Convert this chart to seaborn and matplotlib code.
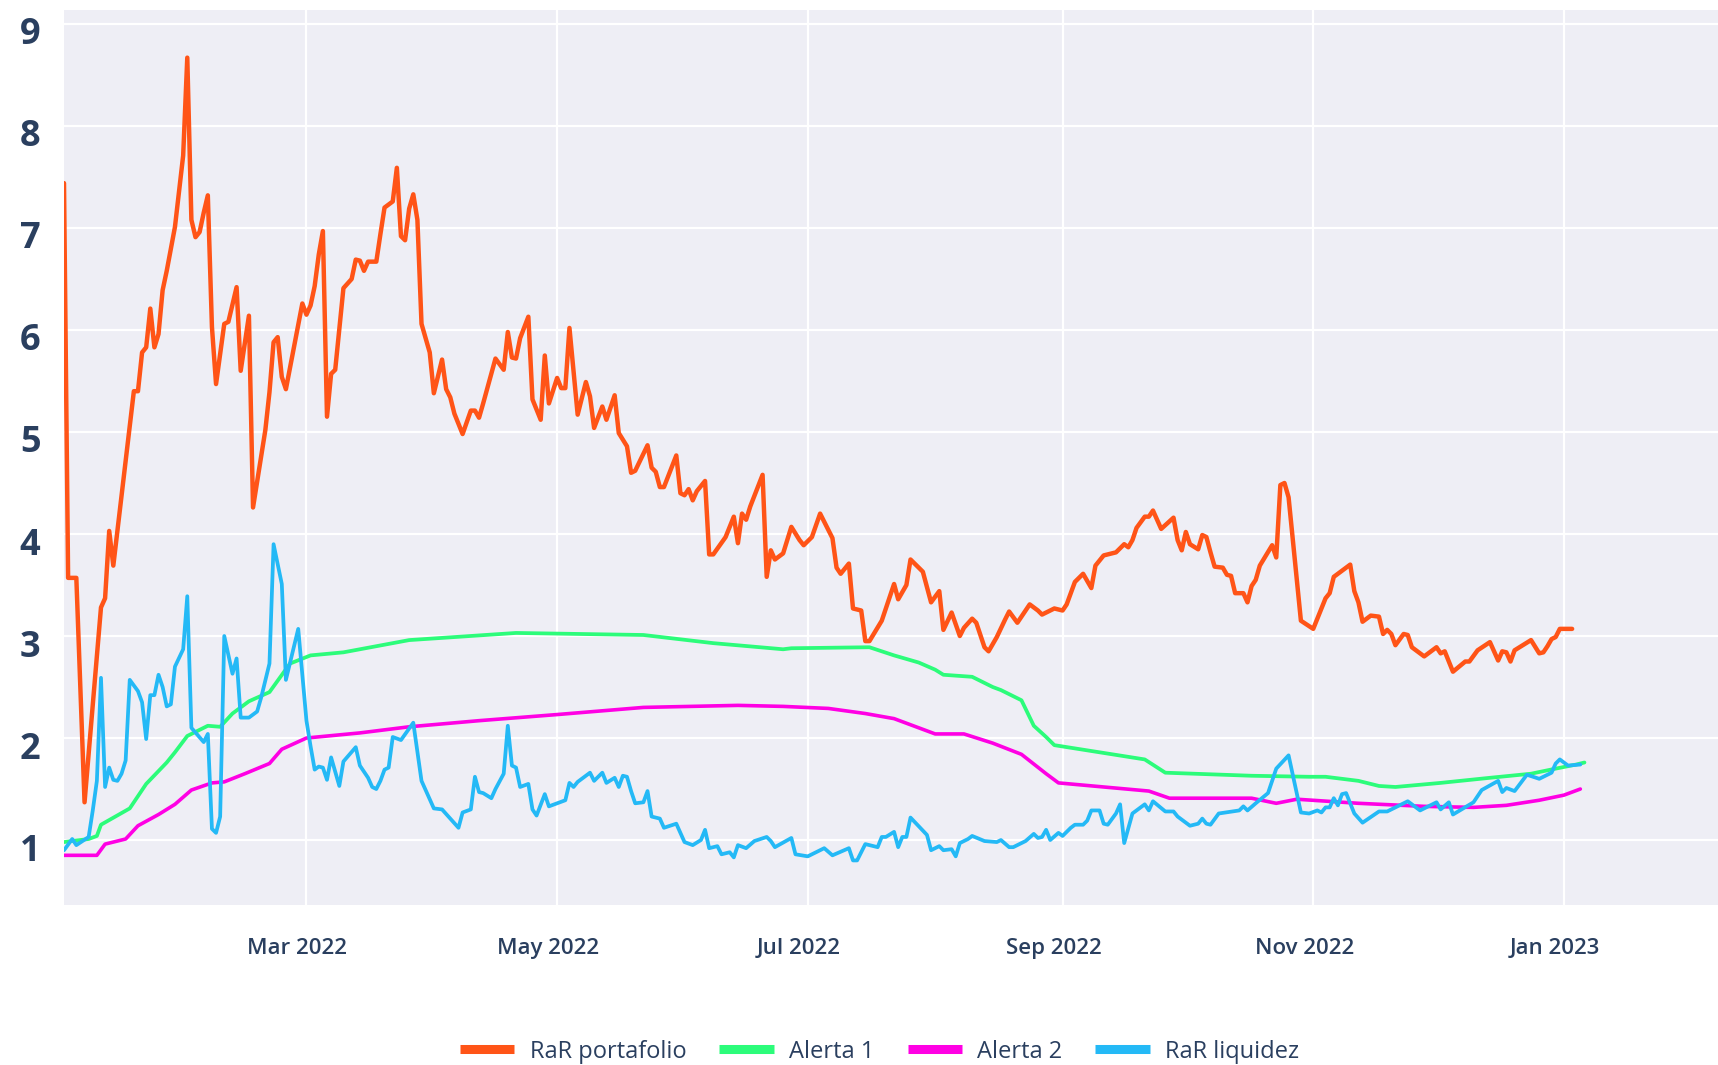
#!/usr/bin/env python3
"""
RaR portafolio vs RaR liquidez, with the two alert thresholds.
Requires pandas, seaborn, matplotlib.
"""
import pandas as pd
import seaborn as sns
import matplotlib.pyplot as plt
from matplotlib.lines import Line2D
from matplotlib.transforms import ScaledTranslation

# ---- data ----
fechas_portafolio = [
    "2022-01-01", "2022-01-02", "2022-01-04", "2022-01-06", "2022-01-10", "2022-01-11",
    "2022-01-12", "2022-01-13", "2022-01-18", "2022-01-19", "2022-01-20", "2022-01-21",
    "2022-01-22", "2022-01-23", "2022-01-24", "2022-01-25", "2022-01-26", "2022-01-28",
    "2022-01-30", "2022-01-31", "2022-02-01", "2022-02-02", "2022-02-03", "2022-02-04",
    "2022-02-05", "2022-02-06", "2022-02-07", "2022-02-09", "2022-02-10", "2022-02-12",
    "2022-02-13", "2022-02-15", "2022-02-16", "2022-02-19", "2022-02-20", "2022-02-21",
    "2022-02-22", "2022-02-23", "2022-02-24", "2022-02-28", "2022-03-01", "2022-03-02",
    "2022-03-03", "2022-03-04", "2022-03-05", "2022-03-06", "2022-03-07", "2022-03-08",
    "2022-03-10", "2022-03-12", "2022-03-13", "2022-03-14", "2022-03-15", "2022-03-16",
    "2022-03-18", "2022-03-19", "2022-03-20", "2022-03-22", "2022-03-23", "2022-03-24",
    "2022-03-25", "2022-03-26", "2022-03-27", "2022-03-28", "2022-03-29", "2022-03-31",
    "2022-04-01", "2022-04-03", "2022-04-04", "2022-04-05", "2022-04-06", "2022-04-08",
    "2022-04-10", "2022-04-11", "2022-04-12", "2022-04-13", "2022-04-16", "2022-04-18",
    "2022-04-19", "2022-04-20", "2022-04-21", "2022-04-22", "2022-04-24", "2022-04-25",
    "2022-04-27", "2022-04-28", "2022-04-29", "2022-05-01", "2022-05-02", "2022-05-03",
    "2022-05-04", "2022-05-06", "2022-05-08", "2022-05-09", "2022-05-10", "2022-05-12",
    "2022-05-13", "2022-05-15", "2022-05-16", "2022-05-18", "2022-05-19", "2022-05-20",
    "2022-05-23", "2022-05-24", "2022-05-25", "2022-05-26", "2022-05-27", "2022-05-30",
    "2022-05-31", "2022-06-01", "2022-06-02", "2022-06-03", "2022-06-04", "2022-06-06",
    "2022-06-07", "2022-06-08", "2022-06-11", "2022-06-13", "2022-06-14", "2022-06-15",
    "2022-06-16", "2022-06-17", "2022-06-20", "2022-06-21", "2022-06-22", "2022-06-23",
    "2022-06-25", "2022-06-27", "2022-06-29", "2022-06-30", "2022-07-02", "2022-07-04",
    "2022-07-07", "2022-07-08", "2022-07-09", "2022-07-11", "2022-07-12", "2022-07-14",
    "2022-07-15", "2022-07-16", "2022-07-19", "2022-07-22", "2022-07-23", "2022-07-25",
    "2022-07-26", "2022-07-29", "2022-07-31", "2022-08-02", "2022-08-03", "2022-08-05",
    "2022-08-07", "2022-08-08", "2022-08-10", "2022-08-11", "2022-08-13", "2022-08-14",
    "2022-08-16", "2022-08-18", "2022-08-19", "2022-08-21", "2022-08-24", "2022-08-26",
    "2022-08-27", "2022-08-30", "2022-08-31", "2022-09-01", "2022-09-02", "2022-09-04",
    "2022-09-06", "2022-09-08", "2022-09-09", "2022-09-11", "2022-09-14", "2022-09-16",
    "2022-09-17", "2022-09-18", "2022-09-19", "2022-09-21", "2022-09-22", "2022-09-23",
    "2022-09-25", "2022-09-28", "2022-09-29", "2022-09-30", "2022-10-01", "2022-10-02",
    "2022-10-04", "2022-10-05", "2022-10-06", "2022-10-07", "2022-10-08", "2022-10-10",
    "2022-10-11", "2022-10-12", "2022-10-13", "2022-10-15", "2022-10-16", "2022-10-17",
    "2022-10-18", "2022-10-19", "2022-10-22", "2022-10-23", "2022-10-24", "2022-10-25",
    "2022-10-26", "2022-10-29", "2022-11-01", "2022-11-04", "2022-11-05", "2022-11-06",
    "2022-11-10", "2022-11-11", "2022-11-12", "2022-11-13", "2022-11-15", "2022-11-17",
    "2022-11-18", "2022-11-19", "2022-11-20", "2022-11-21", "2022-11-23", "2022-11-24",
    "2022-11-25", "2022-11-28", "2022-12-01", "2022-12-02", "2022-12-03", "2022-12-05",
    "2022-12-08", "2022-12-09", "2022-12-11", "2022-12-14", "2022-12-16", "2022-12-17",
    "2022-12-18", "2022-12-19", "2022-12-20", "2022-12-24", "2022-12-26", "2022-12-27",
    "2022-12-28", "2022-12-29", "2022-12-30", "2022-12-31", "2023-01-03",
]
rar_portafolio = [
    7.44, 3.57, 3.57, 1.37, 3.28, 3.37,
    4.03, 3.69, 5.40, 5.40, 5.78, 5.83,
    6.21, 5.83, 5.96, 6.39, 6.58, 7.01,
    7.71, 8.67, 7.08, 6.91, 6.96, 7.15,
    7.32, 6.03, 5.47, 6.06, 6.08, 6.42,
    5.60, 6.14, 4.26, 5.02, 5.39, 5.88,
    5.93, 5.54, 5.42, 6.26, 6.15, 6.24,
    6.43, 6.74, 6.97, 5.15, 5.57, 5.61,
    6.41, 6.50, 6.69, 6.68, 6.58, 6.67,
    6.67, 6.94, 7.20, 7.26, 7.59, 6.92,
    6.88, 7.19, 7.33, 7.08, 6.06, 5.78,
    5.38, 5.71, 5.42, 5.34, 5.18, 4.98,
    5.21, 5.21, 5.14, 5.28, 5.72, 5.61,
    5.98, 5.73, 5.72, 5.92, 6.13, 5.32,
    5.12, 5.75, 5.28, 5.53, 5.43, 5.43,
    6.02, 5.17, 5.49, 5.35, 5.04, 5.25,
    5.12, 5.36, 4.99, 4.86, 4.60, 4.62,
    4.87, 4.65, 4.61, 4.46, 4.46, 4.77,
    4.40, 4.38, 4.44, 4.33, 4.42, 4.52,
    3.80, 3.80, 3.97, 4.17, 3.91, 4.20,
    4.14, 4.27, 4.58, 3.58, 3.84, 3.75,
    3.81, 4.07, 3.94, 3.89, 3.97, 4.20,
    3.96, 3.67, 3.61, 3.71, 3.27, 3.25,
    2.95, 2.95, 3.15, 3.51, 3.36, 3.50,
    3.75, 3.63, 3.33, 3.44, 3.06, 3.23,
    3.00, 3.08, 3.17, 3.13, 2.89, 2.85,
    2.99, 3.16, 3.24, 3.13, 3.31, 3.25,
    3.21, 3.27, 3.26, 3.25, 3.31, 3.53,
    3.61, 3.47, 3.69, 3.79, 3.82, 3.90,
    3.87, 3.94, 4.06, 4.17, 4.17, 4.23,
    4.05, 4.16, 3.94, 3.84, 4.02, 3.90,
    3.85, 3.99, 3.97, 3.82, 3.68, 3.67,
    3.60, 3.59, 3.42, 3.42, 3.33, 3.49,
    3.55, 3.69, 3.89, 3.77, 4.48, 4.50,
    4.36, 3.15, 3.07, 3.37, 3.42, 3.58,
    3.70, 3.44, 3.33, 3.14, 3.20, 3.19,
    3.02, 3.06, 3.02, 2.91, 3.02, 3.01,
    2.89, 2.80, 2.89, 2.83, 2.85, 2.65,
    2.75, 2.75, 2.86, 2.94, 2.76, 2.85,
    2.84, 2.75, 2.86, 2.96, 2.83, 2.84,
    2.90, 2.97, 2.99, 3.07, 3.07,
]

fechas_alerta1 = [
    "2022-01-01", "2022-01-07", "2022-01-09", "2022-01-10", "2022-01-17", "2022-01-21",
    "2022-01-26", "2022-01-28", "2022-01-31", "2022-02-05", "2022-02-08", "2022-02-11",
    "2022-02-15", "2022-02-20", "2022-02-25", "2022-03-02", "2022-03-10", "2022-03-26",
    "2022-04-21", "2022-05-22", "2022-06-08", "2022-06-25", "2022-06-27", "2022-07-16",
    "2022-07-22", "2022-07-28", "2022-08-01", "2022-08-03", "2022-08-10", "2022-08-15",
    "2022-08-17", "2022-08-22", "2022-08-25", "2022-08-28", "2022-08-30", "2022-09-21",
    "2022-09-26", "2022-10-17", "2022-10-31", "2022-11-04", "2022-11-12", "2022-11-17",
    "2022-11-21", "2022-12-02", "2022-12-14", "2022-12-24", "2022-12-30", "2023-01-04",
    "2023-01-06",
]
alerta1 = [
    0.98, 1.01, 1.04, 1.15, 1.31, 1.55,
    1.76, 1.86, 2.02, 2.12, 2.11, 2.24,
    2.36, 2.45, 2.73, 2.81, 2.84, 2.96,
    3.03, 3.01, 2.93, 2.87, 2.88, 2.89,
    2.81, 2.74, 2.67, 2.62, 2.60, 2.50,
    2.47, 2.37, 2.12, 2.01, 1.93, 1.79,
    1.66, 1.63, 1.62, 1.62, 1.58, 1.53,
    1.52, 1.56, 1.61, 1.65, 1.70, 1.74,
    1.76,
]

fechas_alerta2 = [
    "2022-01-01", "2022-01-09", "2022-01-11", "2022-01-16", "2022-01-19", "2022-01-24",
    "2022-01-28", "2022-02-01", "2022-02-06", "2022-02-09", "2022-02-14", "2022-02-20",
    "2022-02-23", "2022-03-01", "2022-03-14", "2022-03-26", "2022-04-12", "2022-05-01",
    "2022-05-22", "2022-06-14", "2022-06-25", "2022-07-06", "2022-07-15", "2022-07-22",
    "2022-08-01", "2022-08-08", "2022-08-15", "2022-08-22", "2022-08-28", "2022-08-31",
    "2022-09-22", "2022-09-27", "2022-10-17", "2022-10-23", "2022-10-28", "2022-11-12",
    "2022-11-28", "2022-12-10", "2022-12-18", "2022-12-26", "2023-01-01", "2023-01-05",
]
alerta2 = [
    0.85, 0.85, 0.96, 1.01, 1.14, 1.25,
    1.35, 1.49, 1.56, 1.57, 1.65, 1.75,
    1.89, 2.00, 2.05, 2.11, 2.17, 2.23,
    2.30, 2.32, 2.31, 2.29, 2.24, 2.19,
    2.04, 2.04, 1.95, 1.84, 1.65, 1.56,
    1.48, 1.41, 1.41, 1.36, 1.40, 1.36,
    1.33, 1.32, 1.34, 1.39, 1.44, 1.50,
]

fechas_liquidez = [
    "2022-01-01", "2022-01-03", "2022-01-04", "2022-01-07", "2022-01-08", "2022-01-09",
    "2022-01-10", "2022-01-11", "2022-01-12", "2022-01-13", "2022-01-14", "2022-01-15",
    "2022-01-16", "2022-01-17", "2022-01-19", "2022-01-20", "2022-01-21", "2022-01-22",
    "2022-01-23", "2022-01-24", "2022-01-25", "2022-01-26", "2022-01-27", "2022-01-28",
    "2022-01-30", "2022-01-31", "2022-02-01", "2022-02-04", "2022-02-05", "2022-02-06",
    "2022-02-07", "2022-02-08", "2022-02-09", "2022-02-11", "2022-02-12", "2022-02-13",
    "2022-02-15", "2022-02-17", "2022-02-18", "2022-02-20", "2022-02-21", "2022-02-23",
    "2022-02-24", "2022-02-27", "2022-03-01", "2022-03-02", "2022-03-03", "2022-03-04",
    "2022-03-05", "2022-03-06", "2022-03-07", "2022-03-09", "2022-03-10", "2022-03-13",
    "2022-03-14", "2022-03-16", "2022-03-17", "2022-03-18", "2022-03-19", "2022-03-20",
    "2022-03-21", "2022-03-22", "2022-03-24", "2022-03-27", "2022-03-29", "2022-04-01",
    "2022-04-03", "2022-04-07", "2022-04-08", "2022-04-10", "2022-04-11", "2022-04-12",
    "2022-04-13", "2022-04-15", "2022-04-16", "2022-04-18", "2022-04-19", "2022-04-20",
    "2022-04-21", "2022-04-22", "2022-04-24", "2022-04-25", "2022-04-26", "2022-04-28",
    "2022-04-29", "2022-05-03", "2022-05-04", "2022-05-05", "2022-05-06", "2022-05-09",
    "2022-05-10", "2022-05-12", "2022-05-13", "2022-05-15", "2022-05-16", "2022-05-17",
    "2022-05-18", "2022-05-19", "2022-05-20", "2022-05-22", "2022-05-23", "2022-05-24",
    "2022-05-26", "2022-05-27", "2022-05-30", "2022-06-01", "2022-06-03", "2022-06-05",
    "2022-06-06", "2022-06-07", "2022-06-09", "2022-06-10", "2022-06-12", "2022-06-13",
    "2022-06-14", "2022-06-16", "2022-06-18", "2022-06-21", "2022-06-22", "2022-06-23",
    "2022-06-27", "2022-06-28", "2022-07-01", "2022-07-05", "2022-07-07", "2022-07-11",
    "2022-07-12", "2022-07-13", "2022-07-15", "2022-07-18", "2022-07-19", "2022-07-20",
    "2022-07-22", "2022-07-23", "2022-07-24", "2022-07-25", "2022-07-26", "2022-07-30",
    "2022-07-31", "2022-08-02", "2022-08-03", "2022-08-05", "2022-08-06", "2022-08-07",
    "2022-08-09", "2022-08-10", "2022-08-13", "2022-08-16", "2022-08-17", "2022-08-19",
    "2022-08-20", "2022-08-23", "2022-08-25", "2022-08-26", "2022-08-27", "2022-08-28",
    "2022-08-29", "2022-08-31", "2022-09-01", "2022-09-03", "2022-09-04", "2022-09-06",
    "2022-09-07", "2022-09-08", "2022-09-10", "2022-09-11", "2022-09-12", "2022-09-14",
    "2022-09-15", "2022-09-16", "2022-09-18", "2022-09-21", "2022-09-22", "2022-09-23",
    "2022-09-26", "2022-09-28", "2022-09-29", "2022-10-02", "2022-10-04", "2022-10-05",
    "2022-10-06", "2022-10-07", "2022-10-09", "2022-10-14", "2022-10-15", "2022-10-16",
    "2022-10-18", "2022-10-21", "2022-10-22", "2022-10-23", "2022-10-26", "2022-10-29",
    "2022-10-31", "2022-11-02", "2022-11-03", "2022-11-04", "2022-11-05", "2022-11-06",
    "2022-11-07", "2022-11-08", "2022-11-09", "2022-11-11", "2022-11-13", "2022-11-17",
    "2022-11-19", "2022-11-24", "2022-11-27", "2022-12-01", "2022-12-02", "2022-12-04",
    "2022-12-05", "2022-12-10", "2022-12-12", "2022-12-16", "2022-12-17", "2022-12-18",
    "2022-12-20", "2022-12-23", "2022-12-26", "2022-12-29", "2022-12-30", "2022-12-31",
    "2023-01-02", "2023-01-05",
]
rar_liquidez = [
    0.90, 1.01, 0.95, 1.03, 1.29, 1.58,
    2.59, 1.52, 1.71, 1.59, 1.58, 1.65,
    1.78, 2.57, 2.46, 2.35, 1.99, 2.42,
    2.42, 2.62, 2.50, 2.31, 2.33, 2.70,
    2.87, 3.39, 2.10, 1.96, 2.04, 1.11,
    1.07, 1.23, 3.00, 2.63, 2.78, 2.20,
    2.20, 2.26, 2.40, 2.73, 3.90, 3.51,
    2.57, 3.07, 2.17, 1.92, 1.69, 1.72,
    1.71, 1.59, 1.81, 1.53, 1.77, 1.91,
    1.73, 1.61, 1.52, 1.50, 1.58, 1.69,
    1.71, 2.01, 1.98, 2.15, 1.58, 1.31,
    1.30, 1.12, 1.27, 1.30, 1.62, 1.47,
    1.46, 1.41, 1.50, 1.65, 2.12, 1.73,
    1.71, 1.52, 1.55, 1.30, 1.24, 1.45,
    1.33, 1.39, 1.56, 1.52, 1.57, 1.66,
    1.58, 1.66, 1.56, 1.61, 1.52, 1.63,
    1.62, 1.48, 1.36, 1.37, 1.48, 1.23,
    1.21, 1.12, 1.16, 0.98, 0.95, 1.00,
    1.10, 0.92, 0.94, 0.86, 0.88, 0.83,
    0.95, 0.92, 0.99, 1.03, 0.99, 0.93,
    1.02, 0.86, 0.84, 0.92, 0.85, 0.92,
    0.80, 0.80, 0.96, 0.93, 1.03, 1.03,
    1.08, 0.93, 1.03, 1.03, 1.22, 1.05,
    0.90, 0.94, 0.90, 0.91, 0.84, 0.97,
    1.01, 1.04, 0.99, 0.98, 1.00, 0.93,
    0.93, 0.99, 1.06, 1.02, 1.03, 1.10,
    1.00, 1.07, 1.04, 1.12, 1.15, 1.15,
    1.19, 1.29, 1.29, 1.16, 1.15, 1.26,
    1.35, 0.97, 1.26, 1.35, 1.29, 1.38,
    1.28, 1.28, 1.23, 1.14, 1.16, 1.21,
    1.16, 1.15, 1.26, 1.29, 1.33, 1.29,
    1.36, 1.46, 1.58, 1.70, 1.83, 1.27,
    1.26, 1.29, 1.27, 1.32, 1.32, 1.41,
    1.34, 1.45, 1.46, 1.26, 1.17, 1.28,
    1.28, 1.38, 1.29, 1.37, 1.30, 1.37,
    1.25, 1.37, 1.49, 1.58, 1.47, 1.51,
    1.48, 1.64, 1.60, 1.66, 1.75, 1.79,
    1.73, 1.74,
]

series_nombres = ["RaR portafolio", "Alerta 1", "Alerta 2", "RaR liquidez"]
series_colores = ["#FF5417", "#2CFC7A", "#FF00E4", "#24B9F6"]

ticks_x = ["2022-03-01", "2022-05-01", "2022-07-01", "2022-09-01", "2022-11-01", "2023-01-01"]
etiquetas_x = ["Mar 2022", "May 2022", "Jul 2022", "Sep 2022", "Nov 2022", "Jan 2023"]
ticks_y = [1, 2, 3, 4, 5, 6, 7, 8, 9]

TEXTO = "#2a3f5f"


def main():
    # 1) Theme: seaborn darkgrid look (grey panel, white grid)
    sns.set_theme(style="darkgrid", rc={
        "axes.facecolor": "#EEEEF5",
        "grid.color": "white",
        "grid.linewidth": 1.6,
    })
    plt.rcParams["font.family"] = ["Open Sans", "DejaVu Sans"]

    fig = plt.figure(figsize=(17.18, 10.65), dpi=100)
    ax = fig.add_axes([64 / 1718, 160 / 1065, 1654 / 1718, 895 / 1065])

    # 2) Lines, in legend order (later ones on top)
    series = [
        (fechas_portafolio, rar_portafolio, 3.2),
        (fechas_alerta1, alerta1, 2.7),
        (fechas_alerta2, alerta2, 2.6),
        (fechas_liquidez, rar_liquidez, 2.7),
    ]
    for (fechas, valores, lw), nombre, color in zip(series, series_nombres, series_colores):
        df = pd.DataFrame({"fecha": pd.to_datetime(fechas), "valor": valores})
        sns.lineplot(data=df, x="fecha", y="valor", color=color, linewidth=lw,
                     estimator=None, legend=False, ax=ax)

    # 3) Axes limits, ticks, labels
    ax.set_xlim(pd.Timestamp("2022-01-01"), pd.Timestamp("2023-02-07 12:00"))
    ax.set_ylim(0.363, 9.137)
    ax.set_xticks(pd.to_datetime(ticks_x))
    ax.set_xticklabels(etiquetas_x, fontsize=16, fontweight="semibold", color=TEXTO)
    ax.set_yticks(ticks_y)
    ax.set_yticklabels([str(v) for v in ticks_y], fontsize=26, fontweight="bold", color=TEXTO)
    ax.tick_params(axis="x", length=0, pad=24)
    ax.tick_params(axis="y", length=0, pad=17)
    ax.set_xlabel("")
    ax.set_ylabel("")
    for s in ax.spines.values():
        s.set_visible(False)

    # labels sit a little off their gridlines in the original
    shift_x = ScaledTranslation(-9 / 100, 0, fig.dpi_scale_trans)
    for lab in ax.get_xticklabels():
        lab.set_transform(lab.get_transform() + shift_x)
    shift_y = ScaledTranslation(0, -7 / 100, fig.dpi_scale_trans)
    for lab in ax.get_yticklabels():
        lab.set_transform(lab.get_transform() + shift_y)

    # 4) Horizontal legend at the bottom
    handles = [Line2D([0], [0], color=c, lw=6.5, solid_capstyle="butt") for c in series_colores]
    fig.legend(handles, series_nombres, loc="center", bbox_to_anchor=(0.512, 0.0125),
               ncol=4, frameon=False, fontsize=17, handlelength=2.3,
               handletextpad=0.65, columnspacing=1.4, labelcolor=TEXTO)

    fig.savefig("out.png", dpi=100, facecolor="white")


if __name__ == "__main__":
    main()
